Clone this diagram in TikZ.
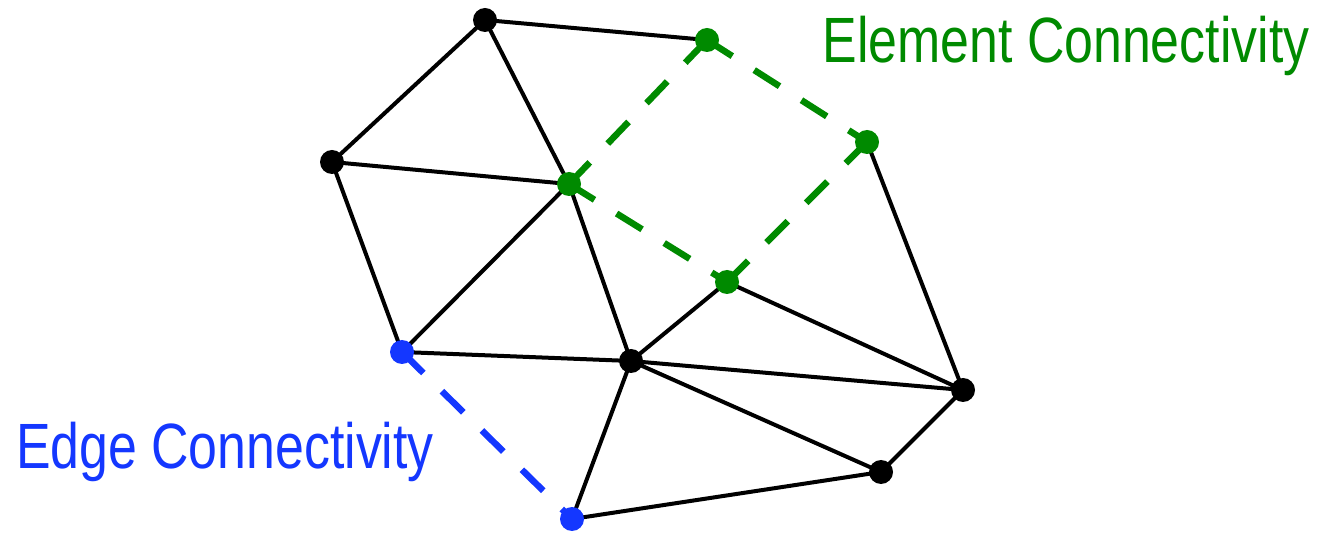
\documentclass[tikz,border=0pt]{standalone}
\usepackage{fontspec}
\newfontfamily\labfont[FakeStretch=0.81]{Liberation Sans}
\definecolor{eg}{RGB}{0,138,0}
\definecolor{eb}{RGB}{20,55,255}
\begin{document}
\begin{tikzpicture}[x=1pt,y=-1pt,
  vtx/.style={circle,fill=#1,inner sep=0pt,minimum size=24pt},
  solidedge/.style={line width=4pt,black},
  dashedge/.style={line width=6.5pt,#1,dash pattern=on 30pt off 26pt},
  lab/.style={font=\labfont\fontsize{64}{64}\selectfont,anchor=base,inner sep=0pt}]
\useasboundingbox (0,0) rectangle (1323,534);
\coordinate (A) at (485,20);
\coordinate (B) at (707,40);
\coordinate (C) at (867,142);
\coordinate (D) at (332,162);
\coordinate (E) at (569,184);
\coordinate (F) at (727,282);
\coordinate (G) at (402,352);
\coordinate (H) at (631,361);
\coordinate (I) at (963,390);
\coordinate (J) at (881,472);
\coordinate (K) at (572,519);
\draw[solidedge] (A)--(B) (A)--(D) (A)--(E) (D)--(E) (D)--(G) (E)--(G) (E)--(H)
  (G)--(H) (H)--(F) (F)--(I) (C)--(I) (H)--(I) (H)--(J) (J)--(I) (H)--(K) (K)--(J);
\draw[dashedge=eg] (E)--(B);
\draw[dashedge=eg] (B)--(C);
\draw[dashedge=eg] (C)--(F);
\draw[dashedge=eg] (E)--(F);
\draw[dashedge=eb] (G)--(K);
\foreach \n in {A,D,H,I,J} \node[vtx=black] (n\n) at (\n) {};
\foreach \n in {B,C,E,F} \node[vtx=eg] (n\n) at (\n) {};
\foreach \n in {G,K} \node[vtx=eb] (n\n) at (\n) {};
\node[lab,text=eg] (elab) at (1066,63) {Element Connectivity};
\node[lab,text=eb] (blab) at (225,468) {Edge Connectivity};
\end{tikzpicture}
\end{document}
